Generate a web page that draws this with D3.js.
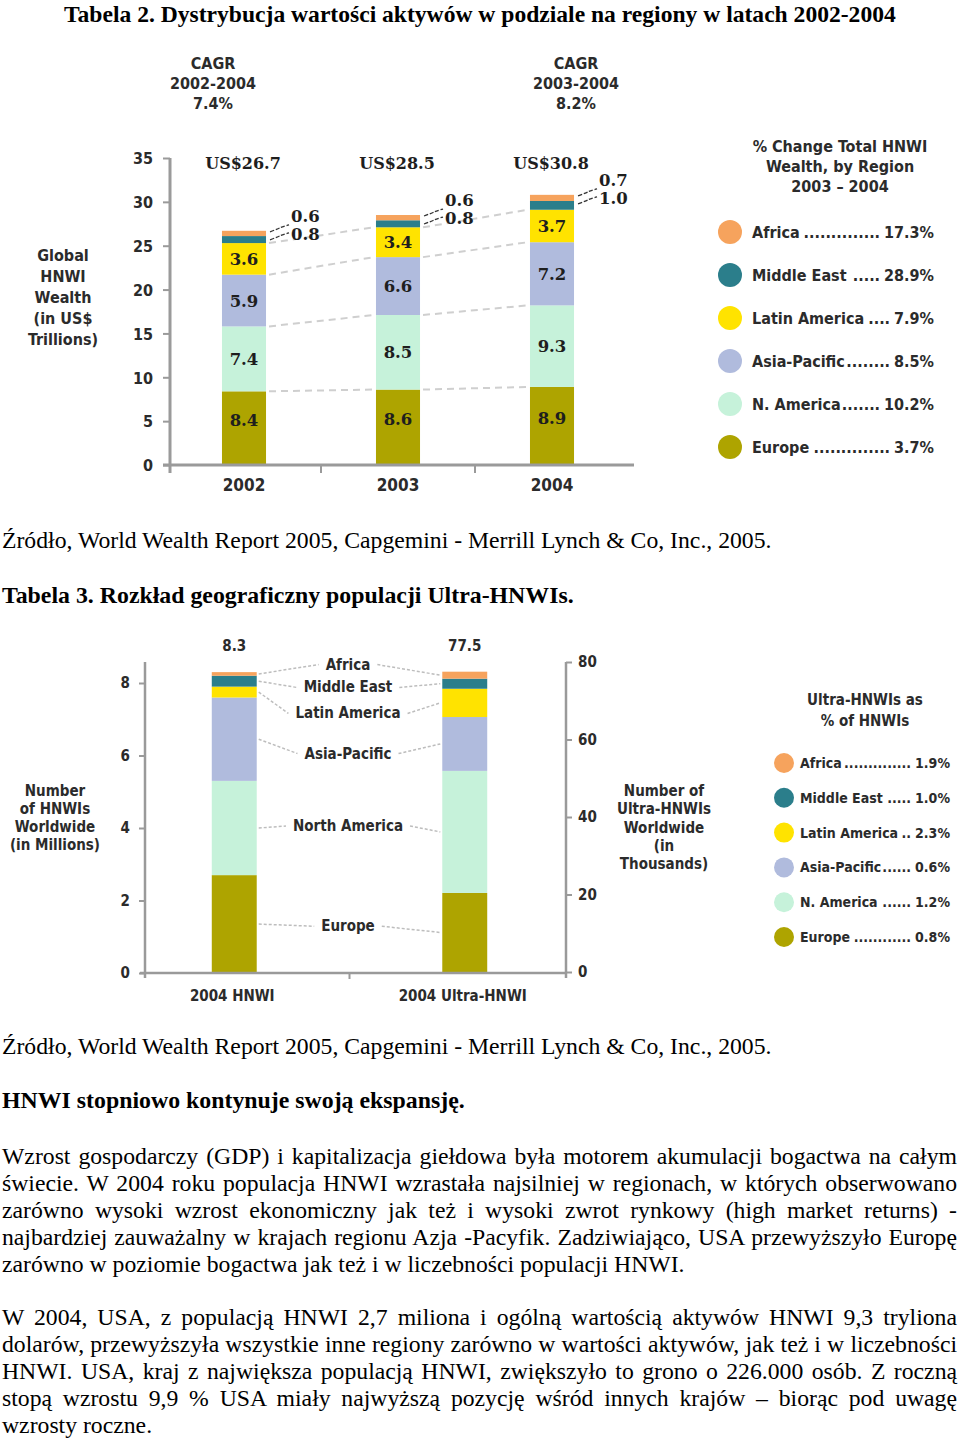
<!DOCTYPE html>
<html><head><meta charset="utf-8">
<script src="https://cdn.jsdelivr.net/npm/d3@7"></script>
<style>
html,body{margin:0;padding:0;background:#fff;}
svg{display:block;}
.c{font-family:"Liberation Sans Narrow","Arial Narrow","DejaVu Sans Condensed","Liberation Sans",sans-serif;font-weight:bold;fill:#2b2b2b;}
.n{font-family:"DejaVu Serif","Liberation Serif",serif;font-weight:bold;fill:#1e1e1e;}
.s{font-family:"Liberation Serif","Times New Roman",serif;fill:#000;}
.sb{font-family:"Liberation Serif","Times New Roman",serif;font-weight:bold;fill:#000;}
</style></head><body>
<svg id="page" width="960" height="1440"></svg>
<script>
// ---------- DATA ----------
const regions = ["Europe", "N. America", "Asia-Pacific", "Latin America", "Middle East", "Africa"];
const years = ["2002", "2003", "2004"];
const wealthEurope = [8.4, 8.6, 8.9];
const wealthNAmerica = [7.4, 8.5, 9.3];
const wealthAsiaPacific = [5.9, 6.6, 7.2];
const wealthLatinAmerica = [3.6, 3.4, 3.7];
const wealthMiddleEast = [0.8, 0.8, 1.0];
const wealthAfrica = [0.6, 0.6, 0.7];
const wealthTotals = ["US$26.7", "US$28.5", "US$30.8"];
const wealthTicks = [0, 5, 10, 15, 20, 25, 30, 35];
const cagrLines = [["CAGR", "2002-2004", "7.4%"], ["CAGR", "2003-2004", "8.2%"]];
const wealthAxisTitle = ["Global", "HNWI", "Wealth", "(in US$", "Trillions)"];
const legend1Title = ["% Change Total HNWI", "Wealth, by Region", "2003 \u2013 2004"];
const legend1Items = ["Africa................ 17.3%", "Middle East....... 28.9%", "Latin America...... 7.9%", "Asia-Pacific ........ 8.5%", "N. America ........ 10.2%", "Europe ............... 3.7%"];

const popCategories = ["2004 HNWI", "2004 Ultra-HNWI"];
const hnwiMillions = [2.7, 2.6, 2.3, 0.3, 0.3, 0.1];      // Europe..Africa
const ultraThousands = [20.4, 31.5, 13.9, 7.3, 2.6, 1.8]; // Europe..Africa
const popTotals = ["8.3", "77.5"];
const hnwiTicks = [0, 2, 4, 6, 8];
const ultraTicks = [0, 20, 40, 60, 80];
const popRegionLabels = ["Europe", "North America", "Asia-Pacific", "Latin America", "Middle East", "Africa"];
const leftAxisTitle2 = ["Number", "of HNWIs", "Worldwide", "(in Millions)"];
const rightAxisTitle2 = ["Number of", "Ultra-HNWIs", "Worldwide", "(in", "Thousands)"];
const legend2Title = ["Ultra-HNWIs as", "% of HNWIs"];
const legend2Items = ["Africa................ 1.9%", "Middle East....... 1.0%", "Latin America.... 2.3%", "Asia-Pacific....... 0.6%", "N. America ........ 1.2%", "Europe .............. 0.8%"];

const pageTitle1 = "Tabela 2. Dystrybucja wartości aktywów w podziale na regiony w latach 2002-2004";
const sourceText = "Źródło, World Wealth Report 2005, Capgemini - Merrill Lynch & Co, Inc., 2005.";
const pageTitle2 = "Tabela 3. Rozkład geograficzny populacji Ultra-HNWIs.";
const heading = "HNWI stopniowo kontynuje swoją ekspansję.";
const paragraph1 = [
  "Wzrost gospodarczy (GDP) i kapitalizacja giełdowa była motorem akumulacji bogactwa na całym",
  "świecie. W 2004 roku populacja HNWI wzrastała najsilniej w regionach, w których obserwowano",
  "zarówno wysoki wzrost ekonomiczny jak też i wysoki zwrot rynkowy (high market returns) -",
  "najbardziej zauważalny w krajach regionu Azja -Pacyfik. Zadziwiająco, USA przewyższyło Europę",
  "zarówno w poziomie bogactwa jak też i w liczebności populacji HNWI."
];
const paragraph2 = [
  "W 2004, USA, z populacją HNWI 2,7 miliona i ogólną wartością aktywów HNWI 9,3 tryliona",
  "dolarów, przewyższyła wszystkie inne regiony zarówno w wartości aktywów, jak też i w liczebności",
  "HNWI. USA, kraj z największa populacją HNWI, zwiększyło to grono o 226.000 osób. Z roczną",
  "stopą wzrostu 9,9 % USA miały najwyższą pozycję wśród innych krajów – biorąc pod uwagę",
  "wzrosty roczne."
];

// ---------- STYLE ----------
const regionColors = ["#aea400", "#c6f2da", "#b0bbdd", "#ffe300", "#2b7e8b", "#f6a35d"];
const axisColor = "#9a9a9a";
const legendOrder = [5, 4, 3, 2, 1, 0]; // Africa first

const svg = d3.select("#page");

// ---------- PAGE TEXT ----------
function measure(cls, size, str) {
  const t = svg.append("text").attr("class", cls).attr("font-size", size).text(str);
  const w = t.node().getComputedTextLength(); t.remove(); return w;
}
const baseSize = 21 * 770 / measure("s", 21, sourceText);
const boldSize = 21 * 463 / measure("sb", 21, heading);
const titleSize = 21 * 832 / measure("sb", 21, pageTitle1);
function plain(str, x, y, cls, size) {
  return svg.append("text").attr("class", cls).attr("font-size", size).attr("x", x).attr("y", y).text(str);
}
function justified(str, y) {
  const t = plain(str, 2, y, "s", baseSize);
  const w = t.node().getComputedTextLength();
  const spaces = (str.match(/ /g) || []).length;
  if (spaces) t.attr("word-spacing", (955 - w) / spaces);
}
plain(pageTitle1, 64, 22, "sb", titleSize);
plain(sourceText, 2, 548, "s", baseSize);
plain(pageTitle2, 2, 603, "sb", boldSize);
plain(sourceText, 2, 1054, "s", baseSize);
plain(heading, 2, 1108, "sb", boldSize);
paragraph1.forEach((l, i) => i < paragraph1.length - 1 ? justified(l, 1164 + i * 27) : plain(l, 2, 1164 + i * 27, "s", baseSize));
paragraph2.forEach((l, i) => i < paragraph2.length - 1 ? justified(l, 1325 + i * 27) : plain(l, 2, 1325 + i * 27, "s", baseSize));

// legend row helper: name ..... value between x0 and x1
function legendRow(g, item, x0, x1, y, size) {
  const m = item.match(/^(.*?)\s*\.+\s*(\S+)$/);
  const name = m[1], val = m[2];
  const tn = g.append("text").attr("class", "c").attr("font-size", size).attr("x", x0).attr("y", y).text(name);
  const tv = g.append("text").attr("class", "c").attr("font-size", size).attr("x", x1).attr("y", y).attr("text-anchor", "end").text(val);
  const nEnd = x0 + tn.node().getComputedTextLength() + 1;
  const vStart = x1 - tv.node().getComputedTextLength() - 4;
  const dotW = measure("c", size, "..........") / 10;
  const nd = Math.max(1, Math.floor((vStart - nEnd) / dotW));
  g.append("text").attr("class", "c").attr("font-size", size).attr("x", vStart).attr("y", y)
    .attr("text-anchor", "end").text(".".repeat(nd));
}

// ---------- CHART 1 ----------
const wealthSeries = [wealthEurope, wealthNAmerica, wealthAsiaPacific, wealthLatinAmerica, wealthMiddleEast, wealthAfrica];
const wealthRows = years.map((yr, i) => { const r = { year: yr }; regions.forEach((k, j) => r[k] = wealthSeries[j][i]); return r; });
const stack1 = d3.stack().keys(regions)(wealthRows);
const y1 = d3.scaleLinear().domain([0, 35]).range([465, 158]);
const x1 = d3.scaleBand().domain(years).range([167, 629]).paddingInner(0.714).paddingOuter(0.357);
const g1 = svg.append("g");

// dashed connectors between bars
for (let k = 0; k < 4; k++) {
  for (let i = 0; i < years.length - 1; i++) {
    g1.append("line")
      .attr("x1", x1(years[i]) + x1.bandwidth() + 3).attr("y1", y1(stack1[k][i][1]))
      .attr("x2", x1(years[i + 1]) - 2).attr("y2", y1(stack1[k][i + 1][1]))
      .attr("stroke", "#cfcfcf").attr("stroke-width", 2).attr("stroke-dasharray", "7,5");
  }
}
// bars
stack1.forEach((s, k) => {
  g1.selectAll(null).data(s).enter().append("rect")
    .attr("x", d => x1(d.data.year)).attr("width", x1.bandwidth())
    .attr("y", d => y1(d[1])).attr("height", d => y1(d[0]) - y1(d[1]))
    .attr("fill", regionColors[k]);
});
// segment value labels (first four regions)
stack1.slice(0, 4).forEach((s, k) => {
  g1.selectAll(null).data(s).enter().append("text").attr("class", "n").attr("font-size", 16.5)
    .attr("text-anchor", "middle")
    .attr("x", d => x1(d.data.year) + x1.bandwidth() / 2)
    .attr("y", d => (y1(d[0]) + y1(d[1])) / 2 + 6 - (k === 0 ? 8 : 0))
    .text(d => d.data[regions[k]].toFixed(1));
});
// small labels for Africa / Middle East
years.forEach((yr, i) => {
  const top = y1(stack1[5][i][1]);
  const bx = x1(yr) + x1.bandwidth();
  const rows = [[wealthAfrica[i], top - 15, top + 1], [wealthMiddleEast[i], top + 3, top + 9]];
  rows.forEach(([v, ty, ly]) => {
    g1.append("path").attr("d", `M${bx + 4},${ly} q8,-3 10,-4 t9,-3`).attr("fill", "none")
      .attr("stroke", "#333").attr("stroke-width", 1.3).attr("stroke-dasharray", "4,2");
    g1.append("text").attr("class", "n").attr("font-size", 16.5).attr("x", bx + 25).attr("y", ty + 6).text(v.toFixed(1));
  });
});
// totals
g1.selectAll(null).data(years).enter().append("text").attr("class", "n").attr("font-size", 16)
  .attr("text-anchor", "middle").attr("x", d => x1(d) + x1.bandwidth() / 2 - 1).attr("y", 169)
  .text((d, i) => wealthTotals[i]);
// axes
const ax1 = g1.append("g").attr("transform", "translate(170,0)")
  .call(d3.axisLeft(y1).tickValues(wealthTicks).tickSize(7).tickPadding(10).tickSizeOuter(0));
ax1.select(".domain").remove();
ax1.selectAll(".tick line").attr("stroke", axisColor).attr("stroke-width", 2);
ax1.selectAll(".tick text").attr("class", "c").attr("font-size", 16).attr("dy", "0.36em");
g1.append("line").attr("x1", 170).attr("x2", 170).attr("y1", y1(35)).attr("y2", y1(0) + 8).attr("stroke", axisColor).attr("stroke-width", 3);
g1.append("line").attr("x1", 163).attr("x2", 634).attr("y1", y1(0)).attr("y2", y1(0)).attr("stroke", axisColor).attr("stroke-width", 3);
years.slice(1).forEach(yr => {
  const bx = x1(yr) - x1.step() * x1.paddingInner() / 2;
  g1.append("line").attr("x1", bx).attr("x2", bx).attr("y1", y1(0)).attr("y2", y1(0) + 8).attr("stroke", axisColor).attr("stroke-width", 2);
});
g1.selectAll(null).data(years).enter().append("text").attr("class", "c").attr("font-size", 17)
  .attr("text-anchor", "middle").attr("x", d => x1(d) + x1.bandwidth() / 2).attr("y", 491).text(d => d);
// CAGR
[[213], [576]].forEach(([cx], i) => {
  cagrLines[i].forEach((l, j) => g1.append("text").attr("class", "c").attr("font-size", 16)
    .attr("text-anchor", "middle").attr("x", cx).attr("y", 69 + j * 20).text(l));
});
// axis title
wealthAxisTitle.forEach((l, j) => g1.append("text").attr("class", "c").attr("font-size", 16)
  .attr("text-anchor", "middle").attr("x", 63).attr("y", 261 + j * 21).text(l));
// legend 1
legend1Title.forEach((l, j) => g1.append("text").attr("class", "c").attr("font-size", 16)
  .attr("text-anchor", "middle").attr("x", 840).attr("y", 152 + j * 20).text(l));
legendOrder.forEach((k, j) => {
  const cy = 232 + j * 43;
  g1.append("circle").attr("cx", 730).attr("cy", cy).attr("r", 12).attr("fill", regionColors[k]);
  legendRow(g1, legend1Items[j], 752, 934, cy + 6, 16);
});

// ---------- CHART 2 ----------
const g2 = svg.append("g");
const yL = d3.scaleLinear().domain([0, 8]).range([973, 683]);
const yR = d3.scaleLinear().domain([0, 80]).range([972, 662]);
const x2 = d3.scaleBand().domain(popCategories).range([119, 580]).paddingInner(0.805).paddingOuter(0.4025);
const popSeries = [hnwiMillions, ultraThousands];
const popScales = [yL, yR];
const popStacks = popSeries.map(vals => { const r = {}; regions.forEach((k, j) => r[k] = vals[j]); return d3.stack().keys(regions)([r]); });

// leader lines + region labels
const labelOffsets = [-2, -4, 12, 16, 5, -10];
const labelX = 348;
popRegionLabels.forEach((lab, k) => {
  const c0 = (yL(popStacks[0][k][0][0]) + yL(popStacks[0][k][0][1])) / 2;
  const c1 = (yR(popStacks[1][k][0][0]) + yR(popStacks[1][k][0][1])) / 2;
  const ly = (c0 + c1) / 2 + labelOffsets[k];
  const t = g2.append("text").attr("class", "c").attr("font-size", 15).attr("text-anchor", "middle")
    .attr("x", labelX).attr("y", ly + 5).text(lab);
  const w = t.node().getComputedTextLength();
  const xa = x2(popCategories[0]) + x2.bandwidth() + 2, xb = x2(popCategories[1]) - 2;
  [[xa, c0, labelX - w / 2 - 7, ly], [labelX + w / 2 + 7, ly, xb, c1]].forEach(([ax, ay, bx, by]) =>
    g2.append("line").attr("x1", ax).attr("y1", ay).attr("x2", bx).attr("y2", by)
      .attr("stroke", "#bdbdbd").attr("stroke-width", 1.5).attr("stroke-dasharray", "3,2"));
});
// bars
popStacks.forEach((st, b) => {
  st.forEach((s, k) => {
    g2.append("rect").attr("x", x2(popCategories[b])).attr("width", x2.bandwidth())
      .attr("y", popScales[b](s[0][1])).attr("height", popScales[b](s[0][0]) - popScales[b](s[0][1]))
      .attr("fill", regionColors[k]);
  });
  g2.append("text").attr("class", "c").attr("font-size", 15).attr("text-anchor", "middle")
    .attr("x", x2(popCategories[b]) + x2.bandwidth() / 2).attr("y", 651).text(popTotals[b]);
  g2.append("text").attr("class", "c").attr("font-size", 15).attr("text-anchor", "middle")
    .attr("x", x2(popCategories[b]) + x2.bandwidth() / 2 - 2).attr("y", 1001).text(popCategories[b]);
});
// axes
const axL = g2.append("g").attr("transform", "translate(145,0)")
  .call(d3.axisLeft(yL).tickValues(hnwiTicks).tickSize(6).tickPadding(9).tickSizeOuter(0));
axL.select(".domain").remove();
axL.selectAll(".tick line").attr("stroke", axisColor).attr("stroke-width", 2);
axL.selectAll(".tick text").attr("class", "c").attr("font-size", 15);
const axR = g2.append("g").attr("transform", "translate(566,0)")
  .call(d3.axisRight(yR).tickValues(ultraTicks).tickSize(6).tickPadding(6).tickSizeOuter(0));
axR.select(".domain").remove();
axR.selectAll(".tick line").attr("stroke", axisColor).attr("stroke-width", 2);
axR.selectAll(".tick text").attr("class", "c").attr("font-size", 15);
g2.append("line").attr("x1", 145).attr("x2", 145).attr("y1", 662).attr("y2", yL(0) + 5).attr("stroke", axisColor).attr("stroke-width", 2.5);
g2.append("line").attr("x1", 566).attr("x2", 566).attr("y1", 662).attr("y2", yL(0) + 5).attr("stroke", axisColor).attr("stroke-width", 2.5);
g2.append("line").attr("x1", 140).attr("x2", 566).attr("y1", yL(0)).attr("y2", yL(0)).attr("stroke", axisColor).attr("stroke-width", 2.5);
{
  const bx = x2(popCategories[1]) - x2.step() * x2.paddingInner() / 2;
  g2.append("line").attr("x1", bx).attr("x2", bx).attr("y1", yL(0)).attr("y2", yL(0) + 6).attr("stroke", axisColor).attr("stroke-width", 2);
}
leftAxisTitle2.forEach((l, j) => g2.append("text").attr("class", "c").attr("font-size", 15)
  .attr("text-anchor", "middle").attr("x", 55).attr("y", 796 + j * 18).text(l));
rightAxisTitle2.forEach((l, j) => g2.append("text").attr("class", "c").attr("font-size", 15)
  .attr("text-anchor", "middle").attr("x", 664).attr("y", 796 + j * 18.3).text(l));
// legend 2
legend2Title.forEach((l, j) => g2.append("text").attr("class", "c").attr("font-size", 15)
  .attr("text-anchor", "middle").attr("x", 865).attr("y", 705 + j * 21).text(l));
legendOrder.forEach((k, j) => {
  const cy = 763 + j * 34.8;
  g2.append("circle").attr("cx", 784).attr("cy", cy).attr("r", 10).attr("fill", regionColors[k]);
  legendRow(g2, legend2Items[j], 800, 950, cy + 5, 14);
});
</script>
</body></html>
